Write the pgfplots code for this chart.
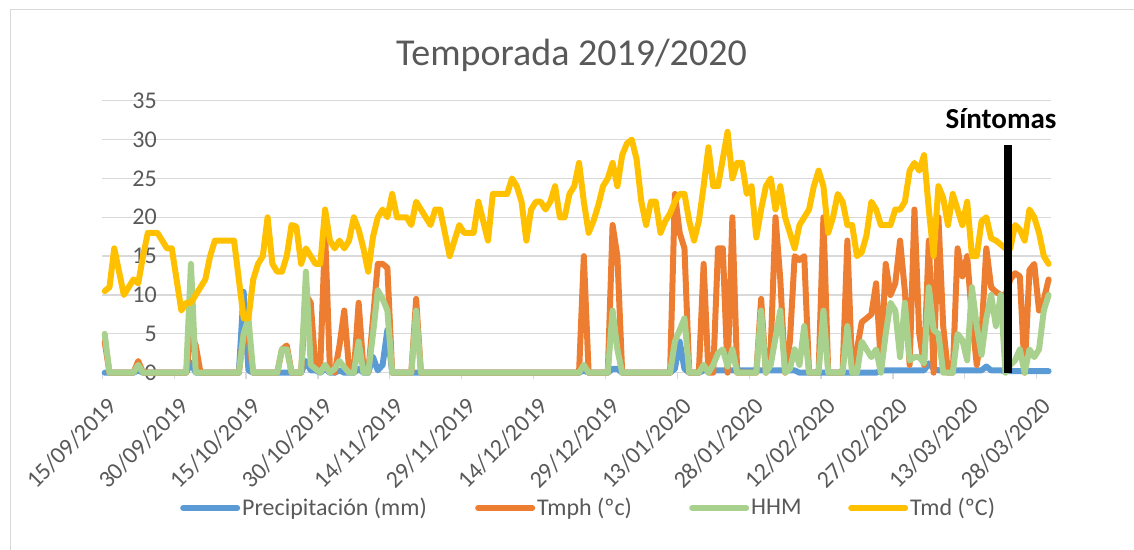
\documentclass[border=0pt]{standalone}
\usepackage{fontspec}
\setmainfont{Carlito}
\usepackage{pgfplots}
\usepackage{pgfplotstable}
\pgfplotsset{compat=1.18}
\definecolor{cprec}{HTML}{5B9BD5}
\definecolor{ctmph}{HTML}{ED7D31}
\definecolor{chhm}{HTML}{A9D18E}
\definecolor{ctmd}{HTML}{FFC000}
\definecolor{txtgray}{HTML}{595959}
\definecolor{gridgray}{HTML}{D9D9D9}

% day index from 15/09/2019; prec, tmph, hhm, tmd
\pgfplotstableread{
day prec tmph hhm tmd
0 0 4 5 10.5
1 0 0 0 11
2 0 0 0 16
3 0 0 0 13
4 0 0 0 10
5 0 0 0 11
6 0 0 0 12
7 0.3 1.5 1 11.5
8 0 0 0 15
9 0 0 0 18
10 0 0 0 18
11 0 0 0 18
12 0 0 0 17
13 0 0 0 16
14 0 0 0 16
15 0 0 0 12
16 0 0 0 8
17 0 0 0 9
18 1.3 5 14 9
19 0 3.5 0 10
20 0 0 0 11
21 0 0 0 12
22 0 0 0 15
23 0 0 0 17
24 0 0 0 17
25 0 0 0 17
26 0 0 0 17
27 0 0 0 17
28 0 0 0 12
29 10.4 5 5 7
30 0.3 4.5 7 7
31 0 0 0 12
32 0 0 0 14
33 0 0 0 15
34 0 0 0 20
35 0 0 0 14
36 0 0 0 13
37 0 3 3 13
38 0 3.5 3 15
39 0 0 0 19
40 0 0 0 18.8
41 0 0 0 14
42 1.5 10 13 16
43 0.3 9 1 15
44 0.3 0.5 0.5 14
45 0 1 0 14
46 0.5 18 1 21
47 0 0.5 0 17
48 0 0 0.5 16
49 0.3 3.5 1.5 17
50 0 8 0.7 16
51 0 0.5 0 17
52 0 0 0 20
53 0.5 9 4 18.4
54 0 0.5 0 16
55 0 0 0 13
56 2 7 5 17.5
57 0.3 14 10.6 20
58 1 14 9.5 21
59 5.5 13.5 8 20
60 0 0 0 23
61 0 0 0 20
62 0 0 0 20
63 0 0 0 20
64 0 0 0 19
65 0 9.5 8 22
66 0 0 0 21
67 0 0 0 20
68 0 0 0 19
69 0 0 0 21
70 0 0 0 21
71 0 0 0 18
72 0 0 0 15
73 0 0 0 17
74 0 0 0 19
75 0 0 0 18
76 0 0 0 18
77 0 0 0 18
78 0 0 0 22
79 0 0 0 19.5
80 0 0 0 17
81 0 0 0 23
82 0 0 0 23
83 0 0 0 23
84 0 0 0 23
85 0 0 0 25
86 0 0 0 24
87 0 0 0 22
88 0 0 0 17
89 0 0 0 21
90 0 0 0 22
91 0 0 0 22
92 0 0 0 21
93 0 0 0 22
94 0 0 0 24
95 0 0 0 20
96 0 0 0 20
97 0 0 0 23
98 0 0 0 24
99 0 0 0 27
100 0.3 15 1 22
101 0 0 0 18
102 0 0 0 19.5
103 0 0 0 21.5
104 0 0 0 24
105 0 0 0 25
106 0.5 19 8 27
107 0.5 15 3 24
108 0 0 0 28
109 0 0 0 29.5
110 0 0 0 30
111 0 0 0 27.5
112 0 0 0 22
113 0 0 0 19
114 0 0 0 22
115 0 0 0 22
116 0 0 0 18
117 0 0 0 19.5
118 0 0 0 20.5
119 0.5 23 4 22
120 4 18 5.5 23
121 0.5 16 7 23
122 0 0 0 19.5
123 0 0 0 17
124 0 0 0 19.5
125 0.3 14 1 24
126 0.3 0 0 29
127 0.3 0 1 24
128 0.3 16 2.5 24
129 0.3 16 3 27.5
130 0.3 0 0.8 31
131 0.3 20 3 25
132 0.3 0 0 27
133 0.3 0 0 27
134 0.3 0 0 23
135 0.3 0 0 24
136 0.3 0 0 17.4
137 0.3 9.5 8 21
138 0.3 0 0 24
139 0.3 3 1 25
140 0.3 20 4.5 21
141 0.3 12 8 24
142 0.3 0 0 20
143 0.3 4 0.5 18
144 0.3 15 3 16
145 0 14.5 1 19
146 0 15 6 20
147 0 0 0 21
148 0 0 0 24
149 0 0 0 26
150 0 20 8 24
151 0 0 0 18
152 0 0 0 20
153 0 0 0 23
154 0 0 0 22
155 0 17 6 19
156 0 0 0 19
157 0 3 0 15
158 0 6.5 4 15.5
159 0 7 3 17.7
160 0 7.5 2 22
161 0 11.5 3 21
162 0.3 1 0 19
163 0.3 14 5 19
164 0.3 10 9 19
165 0.3 11.5 8 21
166 0.3 17 2 21
167 0.3 10.5 9 22
168 0.3 1 1.6 26
169 0.3 21 2 27
170 0.3 5 2 26
171 0.3 1 1.2 28
172 1.2 17 11 21
173 0.5 0 5.5 15
174 0.3 20 5 24
175 0.3 6 0 22.5
176 0.3 0 0 19
177 0.3 0 0 23
178 0.3 16 5 21
179 0.3 12.4 4.2 19
180 0.3 15 1.6 22
181 0.3 7 11 15
182 0.3 1 6 15
183 0.3 5 2.3 19.5
184 0.8 16 7 20
185 0.3 11 10 17.3
186 0.3 10.4 6 17
187 0.3 10 10 16.5
188 0.2 10 0 16
189 0.2 12 1 16
190 0.2 12.8 1.6 19
191 0.2 12.4 3 18.4
192 0.2 0 0 17
193 0.2 13.2 3 21
194 0.2 14 2 20
195 0.2 8 3 18
196 0.2 9.4 8 15
197 0.2 12 10 14
}\datatable

\tikzset{datelbl/.style={font=\fontsize{24}{24}\selectfont, text=txtgray, inner sep=0pt, anchor=north east, rotate=45}}
\newcommand{\datelabel}[2]{\node[datelbl] at ([xshift=4pt,yshift=-23pt]axis cs:#1,0) {#2};}

\begin{document}
\begin{tikzpicture}
% chart area border (top and left edges visible)
\draw[gridgray, line width=1pt] (10pt,-10pt) -- (10pt,539pt) -- (1150pt,539pt);

\node[font=\fontsize{38}{38}\selectfont, text=txtgray, anchor=base] at (571.5pt,483pt) {Temporada 2019/2020};

\begin{axis}[
  at={(102.3pt,176.3pt)}, anchor=south west,
  scale only axis, width=948.7pt, height=272pt,
  xmin=-0.5, xmax=197.5, ymin=0, ymax=35,
  clip=false,
  xtick={-0.5,14.5,29.5,44.5,59.5,74.5,89.5,104.5,119.5,134.5,149.5,164.5,179.5,194.5},
  xticklabels={},
  ytick={0,5,...,35},
  ymajorgrids,
  grid style={gridgray, line width=1.3pt},
  axis x line*=bottom, axis y line*=left,
  x axis line style={gridgray, line width=1.3pt, -},
  y axis line style={draw=none},
  xtick style={gridgray, line width=1.3pt},
  ytick style={draw=none},
  xtick align=outside, major tick length=6pt,
  /pgf/number format/assume math mode=true,
  yticklabel style={font=\fontsize{24}{24}\selectfont, text=txtgray, anchor=east, inner sep=0pt, xshift=54.7pt},
  every axis plot/.append style={line width=6pt, line join=round, line cap=round},
  legend columns=4,
  legend image code/.code={\draw[#1, line cap=round] (0pt,0pt) -- (54pt,0pt);},
  legend style={at={(axis description cs:0.0819,-0.497)}, anchor=west, draw=none, fill=none,
    inner sep=0pt, font=\fontsize{24}{24}\selectfont, text=txtgray,
    nodes={inner sep=2pt}, /tikz/every even column/.append style={column sep=0pt}},
  legend cell align=left,
]
\addplot[cprec] table[x=day, y=prec] {\datatable};
\addlegendentry{\makebox[231pt][l]{Precipitación (mm)}}
\addplot[ctmph] table[x=day, y=tmph] {\datatable};
\addlegendentry{\makebox[150pt][l]{Tmph (ºc)}}
\addplot[chhm] table[x=day, y=hhm] {\datatable};
\addlegendentry{\makebox[95pt][l]{HHM}}
\addplot[ctmd] table[x=day, y=tmd] {\datatable};
\addlegendentry{Tmd (ºC)}
% symptom marker
\addplot[black, line width=7.3pt, line cap=butt, forget plot] coordinates {(188.5,0) (188.5,29.3)};
% date tick labels
\datelabel{-0.5}{15/09/2019}
\datelabel{14.5}{30/09/2019}
\datelabel{29.5}{15/10/2019}
\datelabel{44.5}{30/10/2019}
\datelabel{59.5}{14/11/2019}
\datelabel{74.5}{29/11/2019}
\datelabel{89.5}{14/12/2019}
\datelabel{104.5}{29/12/2019}
\datelabel{119.5}{13/01/2020}
\datelabel{134.5}{28/01/2020}
\datelabel{149.5}{12/02/2020}
\datelabel{164.5}{27/02/2020}
\datelabel{179.5}{13/03/2020}
\datelabel{194.5}{28/03/2020}
\end{axis}

\node[font=\bfseries\fontsize{29}{29}\selectfont, anchor=base] at (1001pt,420pt) {Síntomas};

\pgfresetboundingbox
\useasboundingbox (0pt,0pt) rectangle (1134pt,549pt);
\end{tikzpicture}
\end{document}
